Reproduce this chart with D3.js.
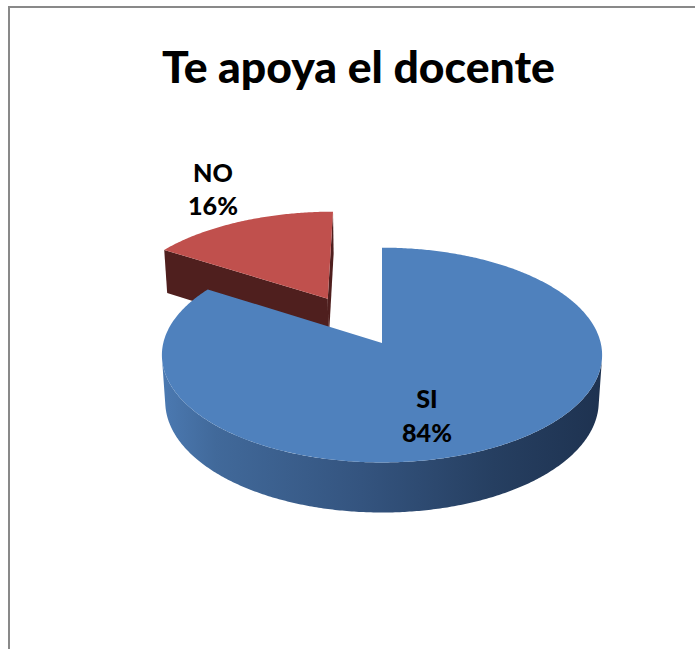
<!DOCTYPE html>
<html><head><meta charset="utf-8">
<script src="https://cdn.jsdelivr.net/npm/d3@7"></script>
<style>body{margin:0;background:#fff;overflow:hidden}</style></head>
<body><svg id="c" width="695" height="649"></svg>
<script>
const title = "Te apoya el docente";
const categories = ["SI", "NO"];
const values = [84, 16];
const percentLabels = ["84%", "16%"];
const topColors = ["#4F81BD", "#C0504D"];
const sideColors = ["#2E4A70", "#4F1F1E"];
const explode = [0, 0.5];

const svg = d3.select("#c");

// chart border
svg.append("rect").attr("x", 9).attr("y", 7).attr("width", 720).attr("height", 700)
  .attr("fill", "#fff").attr("stroke", "#898989").attr("stroke-width", 2);

// perspective projection parameters
const cx = 382, cy = 343, F = 1706, D = 7.8;
const el = 29 * Math.PI / 180, se = Math.sin(el), ce = Math.cos(el);
const T = 0.246;

function proj(a, r, hgt, off) {
  const u = r * Math.sin(a) + off[0];
  const w = -r * Math.cos(a) + off[1];
  const yc = w * se - hgt * ce;
  const z = D - w * ce - hgt * se;
  return [cx + F * u / z, cy + F * yc / z];
}

const pie = d3.pie().sort(null).startAngle(0).endAngle(2 * Math.PI);
const arcs = pie(values).map((d, i) => {
  const mid = (d.startAngle + d.endAngle) / 2;
  const off = [explode[i] * Math.sin(mid) * 1.08, -explode[i] * Math.cos(mid)];
  return Object.assign(d, {i, mid, off});
});

const defs = svg.append("defs");
const g1 = defs.append("linearGradient").attr("id", "sideSI")
  .attr("gradientUnits", "userSpaceOnUse").attr("x1", 163).attr("x2", 603).attr("y1", 0).attr("y2", 0);
[[0, "#4B79B1"], [0.12, "#41699A"], [0.45, "#34547F"], [0.75, "#263F61"], [1, "#1E3250"]]
  .forEach(s => g1.append("stop").attr("offset", s[0]).attr("stop-color", s[1]));
const g2 = defs.append("linearGradient").attr("id", "sideNO")
  .attr("gradientUnits", "userSpaceOnUse").attr("x1", 163).attr("x2", 340).attr("y1", 0).attr("y2", 0);
[[0, "#552221"], [1, "#4A1D1C"]]
  .forEach(s => g2.append("stop").attr("offset", s[0]).attr("stop-color", s[1]));
const sideFill = ["url(#sideSI)", "url(#sideNO)"];

const line = d3.line().curve(d3.curveLinearClosed);
const camU = 0, camW = D * ce;

function arcPts(a0, a1, r, hgt, off) {
  const n = Math.max(2, Math.ceil(Math.abs(a1 - a0) / 0.01));
  return d3.range(n + 1).map(k => proj(a0 + (a1 - a0) * k / n, r, hgt, off));
}

// draw back to front
const order = arcs.slice().sort((a, b) => (-Math.cos(a.mid) + a.off[1]) - (-Math.cos(b.mid) + b.off[1]));
const layer = svg.append("g");
order.forEach(d => {
  const g = layer.append("g");
  const off = d.off;
  // radial faces
  [[d.startAngle, -1], [d.endAngle, 1]].forEach(([a, sgn]) => {
    const nu = sgn * Math.cos(a), nw = sgn * Math.sin(a);
    const vis = nu * (camU - off[0]) + nw * (camW - off[1]);
    if (vis > 0) {
      const pts = [proj(a, 0, 0, off), proj(a, 1, 0, off), proj(a, 1, -T, off), proj(a, 0, -T, off)];
      g.append("path").attr("d", line(pts)).attr("fill", sideColors[d.i]);
    }
  });
  // outer wall, visible angular ranges
  const step = 0.005;
  let ranges = [], cur = null;
  for (let a = d.startAngle; a <= d.endAngle + 1e-9; a += step) {
    const nu = Math.sin(a), nw = -Math.cos(a);
    const pu = Math.sin(a) + off[0], pw = -Math.cos(a) + off[1];
    const vis = nu * (camU - pu) + nw * (camW - pw) > 0;
    if (vis) { if (!cur) { cur = [a, a]; ranges.push(cur); } cur[1] = Math.min(a, d.endAngle); }
    else cur = null;
  }
  ranges.forEach(([a0, a1]) => {
    const pts = arcPts(a0, a1, 1, 0, off).concat(arcPts(a1, a0, 1, -T, off));
    g.append("path").attr("d", line(pts)).attr("fill", sideFill[d.i]);
  });
  // top face
  const topPts = [proj(0, 0, 0, off)].concat(arcPts(d.startAngle, d.endAngle, 1, 0, off));
  g.append("path").attr("d", line(topPts)).attr("fill", topColors[d.i]);
});

// title
function fit(t, width) {
  const w = t.node().getComputedTextLength();
  const fs = parseFloat(t.attr("font-size"));
  t.attr("font-size", fs * width / w);
}
const tt = svg.append("text").attr("x", 358.5).attr("y", 83).attr("text-anchor", "middle")
  .attr("font-family", "Lato, 'Open Sans', sans-serif").attr("font-weight", 900)
  .attr("font-size", 44).attr("fill", "#000").text(title);
fit(tt, 393);

// data labels
const labelPos = [[427, 408, 442], [213, 182, 215]];
arcs.forEach(d => {
  const p = labelPos[d.i];
  const a = svg.append("text").attr("x", p[0]).attr("y", p[1]).attr("text-anchor", "middle")
    .attr("font-family", "Lato, 'Open Sans', sans-serif").attr("font-weight", 900)
    .attr("font-size", 26).attr("fill", "#000").text(categories[d.i]);
  const b = svg.append("text").attr("x", p[0]).attr("y", p[2]).attr("text-anchor", "middle")
    .attr("font-family", "Lato, 'Open Sans', sans-serif").attr("font-weight", 900)
    .attr("font-size", 26).attr("fill", "#000").text(percentLabels[d.i]);
  const fs0 = 26 * 50 / b.node().getComputedTextLength();
  a.attr("font-size", fs0); b.attr("font-size", fs0);
});
</script></body></html>
